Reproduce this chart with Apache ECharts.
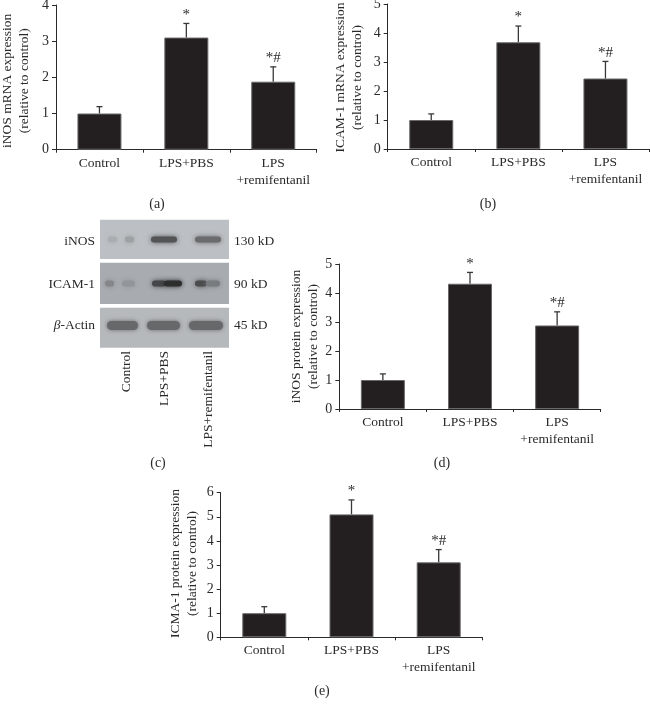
<!DOCTYPE html>
<html><head><meta charset="utf-8">
<style>html,body{margin:0;padding:0;background:#fff}#c{width:650px;height:709px}</style>
<script src="https://cdn.jsdelivr.net/npm/echarts@6/dist/echarts.min.js"></script>
</head><body><div id="c"></div>
<script>
const categories = ['Control', 'LPS+PBS', 'LPS\n+remifentanil'];
const marks = ['', '*', '*#'];
const inosMrna = [1.0, 3.1, 1.88];
const inosMrnaTop = [1.19, 3.49, 2.29];
const icamMrna = [1.0, 3.68, 2.43];
const icamMrnaTop = [1.21, 4.24, 3.02];
const inosProtein = [1.0, 4.32, 2.88];
const inosProteinTop = [1.21, 4.71, 3.35];
const icmaProtein = [1.0, 5.1, 3.11];
const icmaProteinTop = [1.27, 5.7, 3.64];
const blotLanes = ['Control', 'LPS+PBS', 'LPS+remifentanil'];
const blotRows = ['iNOS', 'ICAM-1', 'β-Actin'];
const blotSizes = ['130 kD', '90 kD', '45 kD'];
const inosBand = [0.2, 0.7, 0.55];
const icamBand = [0.28, 0.95, 0.72];
const actinBand = [0.55, 0.55, 0.55];

const FONT = '"Liberation Serif", serif';
const INK = '#2b2a2a';
const panels = [
  {cap:'(a)', capX:157, capY:204, l:56, r:316.7, t:5, b:149.7, max:4, gap:23, nudge:3.5, lab:'iNOS mRNA expression\n(relative to control)', v:inosMrna, e:inosMrnaTop},
  {cap:'(b)', capX:488, capY:204, l:387.7, r:649, t:4, b:149, max:5, gap:21.5, nudge:1, lab:'ICAM-1 mRNA expression\n(relative to control)', v:icamMrna, e:icamMrnaTop},
  {cap:'(d)', capX:442, capY:463, l:339.3, r:600.7, t:264, b:409, max:5, gap:17.5, nudge:0, lab:'iNOS protein expression\n(relative to control)', v:inosProtein, e:inosProteinTop},
  {cap:'(e)', capX:322, capY:691, l:220.7, r:482.3, t:492.7, b:637.3, max:6, gap:20, nudge:-1.5, lab:'ICMA-1 protein expression\n(relative to control)', v:icmaProtein, e:icmaProteinTop}
];
const W = 650, H = 709;
const grids = [], xAxes = [], yAxes = [], series = [];
const graphics = [];
const caption = (text, x, y) => graphics.push({type:'text', silent:true, style:{x:x, y:y, text:text, fill:INK, font:'14px ' + FONT, align:'center', verticalAlign:'middle'}});

panels.forEach((p, i) => {
  grids.push({left:p.l, width:p.r - p.l, top:p.t, height:p.b - p.t, containLabel:false, outerBoundsMode:'none'});
  xAxes.push({type:'category', gridIndex:i, data:categories,
    axisLine:{lineStyle:{color:INK, width:1}},
    axisTick:{show:true, alignWithLabel:false, length:3, lineStyle:{color:INK}},
    axisLabel:{interval:0, color:INK, fontFamily:FONT, fontSize:13.5, lineHeight:17, margin:5}});
  yAxes.push({type:'value', gridIndex:i, min:0, max:p.max, interval:1,
    name:p.lab, nameLocation:'middle', nameRotate:90, nameGap:p.gap, nameMoveOverlap:false,
    nameTextStyle:{color:INK, fontFamily:FONT, fontSize:13.5, lineHeight:17, padding:[0, p.nudge > 0 ? p.nudge * 2 : 0, 0, p.nudge < 0 ? -p.nudge * 2 : 0]},
    splitLine:{show:false},
    axisLine:{show:true, lineStyle:{color:INK, width:1}},
    axisTick:{show:true, length:4, lineStyle:{color:INK}},
    axisLabel:{color:INK, fontFamily:FONT, fontSize:14, margin:7}});
  series.push({type:'bar', xAxisIndex:i, yAxisIndex:i, data:p.v, barWidth:44, silent:true,
    itemStyle:{color:'#231f20', borderColor:'#6a6868', borderWidth:1}});
  series.push({type:'custom', xAxisIndex:i, yAxisIndex:i, silent:true, clip:false,
    data:p.e.map((top, k) => [k, p.v[k], top]),
    encode:{x:0, y:2},
    renderItem(params, api) {
      const base = api.coord([api.value(0), api.value(1)]);
      const top = api.coord([api.value(0), api.value(2)]);
      const x = base[0];
      return {type:'group', children:[
        {type:'line', shape:{x1:x, y1:base[1], x2:x, y2:top[1]}, style:{stroke:'#3a3838', lineWidth:1.3}},
        {type:'line', shape:{x1:x - 3, y1:top[1], x2:x + 3, y2:top[1]}, style:{stroke:'#3a3838', lineWidth:1.3}},
        {type:'text', style:{x:x, y:top[1] - 1, text:marks[params.dataIndex], fill:INK, font:'15px ' + FONT, align:'center', verticalAlign:'bottom'}}
      ]};
    }});
  caption(p.cap, p.capX, p.capY);
});
caption('(c)', 158, 463);

// Western-blot panel: a hidden grid holding one band per lane and row
const blotIdx = panels.length;
const blot = {l:100, r:229, t:219.7, b:347.7};
grids.push({left:blot.l, width:blot.r - blot.l, top:blot.t, height:blot.b - blot.t, outerBoundsMode:'none'});
xAxes.push({type:'category', gridIndex:blotIdx, data:blotLanes, show:false});
yAxes.push({type:'category', gridIndex:blotIdx, data:blotRows, inverse:true, show:false});

const rowBoxes = [
  {t:219.7, b:259, fill:'#bcc0c4', y:239.5, h:6, blur:5},
  {t:262.7, b:304, fill:'#a8acb1', y:283.5, h:6, blur:5},
  {t:307.7, b:347.7, fill:'#b6b9bc', y:325.5, h:9, blur:4}
];
// [start, width, relative strength] of the pieces of each band
const laneBlobs = [
  [[[108,9,0.6],[125,9,1]], [[151,26,1]], [[195,26,1]]],
  [[[105,9,1],[122,13,0.6]], [[152,14,0.8],[164,18,1]], [[195,12,1],[206,14,0.5]]],
  [[[107,31,1]], [[147,33,1]], [[189,34,1]]]
];
const bandData = [];
[inosBand, icamBand, actinBand].forEach((row, r) => row.forEach((d, l) => bandData.push([l, r, d])));
series.push({type:'custom', xAxisIndex:blotIdx, yAxisIndex:blotIdx, silent:true, clip:false,
  data:bandData, encode:{x:0, y:1},
  renderItem(params, api) {
    const lane = api.value(0), row = api.value(1), dark = api.value(2);
    const box = rowBoxes[row];
    const base = box.fill.match(/[0-9a-f]{2}/g).map(s => parseInt(s, 16));
    const kids = laneBlobs[row][lane].map(b => {
      const a = dark * b[2];
      const col = 'rgb(' + base.map(v => Math.round(v + (38 - v) * a)).join(',') + ')';
      return {type:'rect', shape:{x:b[0], y:box.y - box.h / 2, width:b[1], height:box.h, r:box.h / 2},
        style:{fill:col, shadowBlur:box.blur, shadowColor:col}};
    });
    return {type:'group', children:kids};
  }});

rowBoxes.forEach(b => graphics.push({type:'rect', z:-1, silent:true, shape:{x:blot.l, y:b.t, width:blot.r - blot.l, height:b.b - b.t}, style:{fill:b.fill}}));
blotRows.forEach((name, r) => {
  const y = [241, 284, 325][r];
  const rich = name.startsWith('β');
  graphics.push({type:'text', silent:true, style:{x:95, y:y,
    text: rich ? '{b|β}{n|' + name.slice(1) + '}' : name,
    rich: rich ? {b:{fill:INK, font:'italic 13.5px ' + FONT}, n:{fill:INK, font:'13.5px ' + FONT}} : undefined,
    fill:INK, font:'13.5px ' + FONT, align:'right', verticalAlign:'middle'}});
  graphics.push({type:'text', silent:true, style:{x:234, y:y, text:blotSizes[r], fill:INK, font:'13.5px ' + FONT, align:'left', verticalAlign:'middle'}});
});
blotLanes.forEach((name, l) => {
  const x = [126, 164, 208][l];
  graphics.push({type:'text', silent:true, rotation:Math.PI / 2, x:x, y:351,
    style:{x:0, y:0, text:name, fill:INK, font:'13.5px ' + FONT, align:'right', verticalAlign:'middle'}});
});

const chart = echarts.init(document.getElementById('c'), null, {renderer:'canvas', width:W, height:H});
chart.setOption({animation:false, backgroundColor:'#fff', grid:grids, xAxis:xAxes, yAxis:yAxes, series:series, graphic:graphics});
</script></body></html>
